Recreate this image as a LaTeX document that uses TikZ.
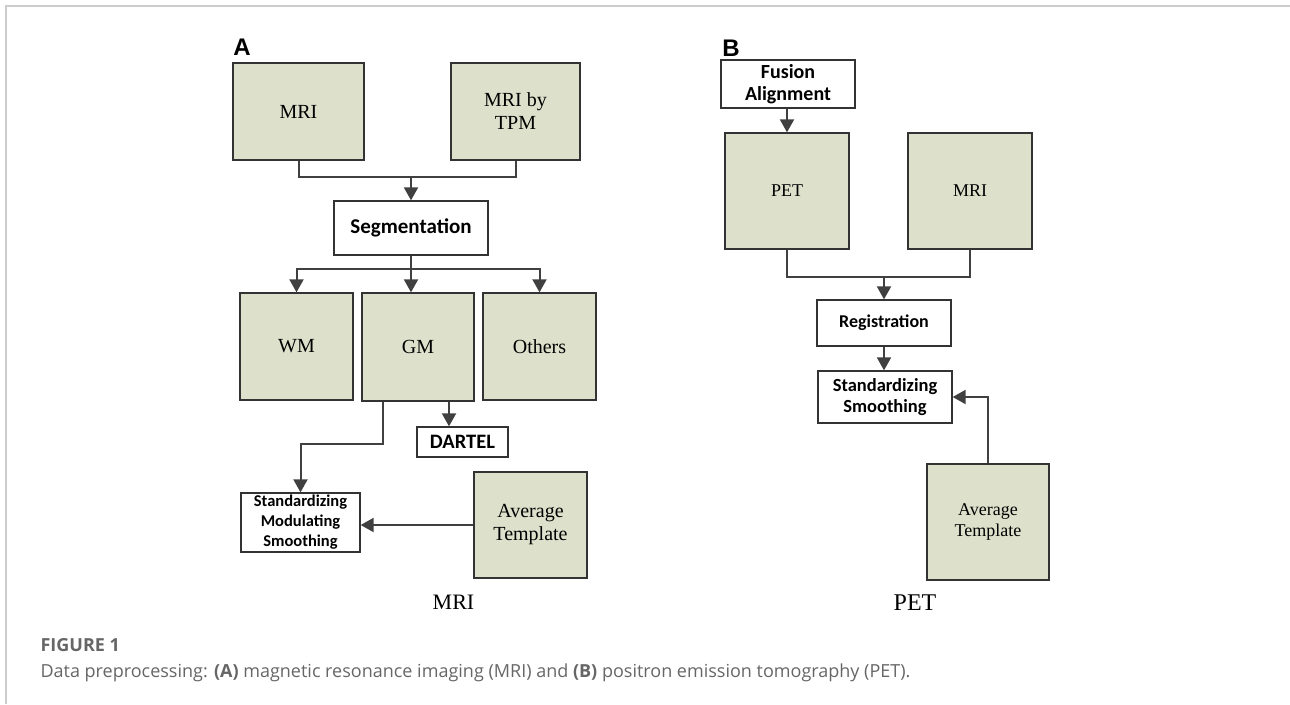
\documentclass[tikz,border=0pt]{standalone}
\usepackage{fontspec}
\setmainfont{Liberation Serif}
\newfontfamily\stepfont{Carlito}
\newfontfamily\capfont{Open Sans}
\newfontfamily\panelfont{Liberation Sans}
\usetikzlibrary{arrows.meta, positioning}

\definecolor{scanfill}{HTML}{DDE1CB}
\definecolor{edgegray}{HTML}{404040}
\definecolor{boxgray}{HTML}{333333}
\definecolor{framegray}{HTML}{CCCCCC}
\definecolor{captiongray}{HTML}{666666}

\tikzset{
  scanbox/.style={draw=boxgray, line width=1.3pt, fill=scanfill, inner sep=0pt,
    align=center, font=\fontsize{20}{23}\selectfont},
  stepbox/.style={draw=boxgray, line width=1.3pt, fill=white, inner sep=0pt,
    align=center, font=\stepfont\bfseries\fontsize{19.5}{22}\selectfont},
  flow/.style={draw=edgegray, line width=2pt, -{Triangle[width=14pt,length=13pt]}},
  link/.style={draw=edgegray, line width=2pt},
  panel/.style={font=\panelfont\bfseries\fontsize{24}{24}\selectfont},
}

\begin{document}
\begin{tikzpicture}[x=1pt, y=-1pt]
    \useasboundingbox (0,0) rectangle (1290,704);
    % Frame
    \draw[framegray, line width=1.5pt] (6,704) -- (6,6) -- (1290,6);

    % Panel A: MRI
    \node[panel] (labA) at (242,47) {A};
    \node[scanbox, minimum width=131pt, minimum height=97pt] (mriA) at (298.5,111.5) {MRI};
    \node[scanbox, minimum width=129pt, minimum height=97pt] (tpm) at (515.5,111.5) {MRI by\\TPM};
    \node[stepbox, font=\stepfont\bfseries\fontsize{21}{24}\selectfont,
          minimum width=154pt, minimum height=54pt] (seg) at (411,228) {Segmentation};
    \node[scanbox, minimum width=113pt, minimum height=107pt] (wm) at (296.5,346.5) {WM};
    \node[scanbox, minimum width=112pt, minimum height=108pt] (gm) at (418,347) {GM};
    \node[scanbox, minimum width=113pt, minimum height=107pt] (oth) at (539.5,346.5) {Others};
    \node[stepbox, font=\stepfont\bfseries\fontsize{20.5}{22}\selectfont,
          minimum width=91pt, minimum height=30pt] (dartel) at (462.5,442) {DARTEL};
    \node[stepbox, font=\stepfont\bfseries\fontsize{16.5}{20}\selectfont,
          minimum width=119pt, minimum height=59pt] (stdA) at (300.5,522.5) {Standardizing\\Modulating\\Smoothing};
    \node[scanbox, minimum width=113pt, minimum height=106pt] (avgA) at (530.5,525) {Average\\Template};
    \node[font=\fontsize{22}{22}\selectfont] (capA) at (453.5,602) {MRI};

    \coordinate (jA) at (411,177);
    \coordinate (kA) at (411,269);
    \draw[link] (mriA.south) |- (jA) -| (tpm.south);
    \draw[flow] (jA) -- (seg.north);
    \draw[link] (seg.south) -- (kA);
    \draw[flow] (kA) -| (wm.north);
    \draw[flow] (kA) -- (kA |- gm.north);
    \draw[flow] (kA) -| (oth.north);
    \draw[flow] ([xshift=31pt]gm.south) -- ([xshift=31pt]gm.south |- dartel.north);
    \draw[flow] ([xshift=-35pt]gm.south) -- ++(0,42) -| (stdA.north);
    \draw[flow] (avgA.west) -- (avgA.west -| stdA.east);

    % Panel B: PET
    \node[panel] (labB) at (731,48) {B};
    \node[stepbox, font=\stepfont\bfseries\fontsize{20}{22}\selectfont,
          minimum width=134pt, minimum height=48pt] (fus) at (788,84) {Fusion\\Alignment};
    \node[scanbox, font=\fontsize{18}{21}\selectfont,
          minimum width=124pt, minimum height=116pt] (pet) at (787,191) {PET};
    \node[scanbox, font=\fontsize{18}{21}\selectfont,
          minimum width=124pt, minimum height=116pt] (mriB) at (970,191) {MRI};
    \node[stepbox, font=\stepfont\bfseries\fontsize{18}{21}\selectfont,
          minimum width=134pt, minimum height=46pt] (reg) at (884,323) {Registration};
    \node[stepbox, font=\stepfont\bfseries\fontsize{18.5}{21}\selectfont,
          minimum width=134pt, minimum height=52pt] (stdB) at (885,397) {Standardizing\\Smoothing};
    \node[scanbox, font=\fontsize{18}{21}\selectfont,
          minimum width=122pt, minimum height=116pt] (avgB) at (988,522) {Average\\Template};
    \node[font=\fontsize{24}{24}\selectfont] (capB) at (915,603) {PET};

    \coordinate (jB) at (884,277);
    \draw[flow] (fus.south -| pet.north) -- (pet.north);
    \draw[link] (pet.south) |- (jB) -| (mriB.south);
    \draw[flow] (jB) -- (reg.north);
    \draw[flow] (reg.south -| jB) -- (stdB.north -| jB);
    \draw[flow] (avgB.north) |- (stdB.east);

    % Caption
    \node[anchor=west, text=captiongray, font=\capfont\bfseries\fontsize{18}{18}\selectfont]
        (fig) at (37,645) {FIGURE 1};
    \node[anchor=west, text=captiongray, font=\capfont\fontsize{18}{18}\selectfont]
        (cap) at (37,673) {Data preprocessing: \textbf{(A)} magnetic resonance imaging (MRI) and \textbf{(B)} positron emission tomography (PET).};
\end{tikzpicture}
\end{document}
